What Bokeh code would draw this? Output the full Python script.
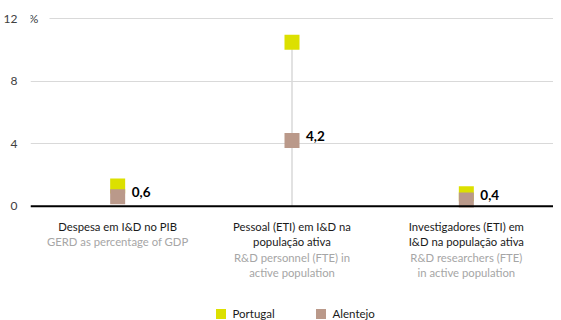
from bokeh.plotting import figure
from bokeh.models import (ColumnDataSource, Range1d, FactorRange, FixedTicker, Span,
                          Label, Legend, LegendItem, BoxAnnotation)
from bokeh.core.properties import value
from bokeh.embed import file_html
from bokeh.resources import INLINE

# ---- data ----
categories = ["Despesa", "Pessoal", "Investigadores"]
pt_labels = ["Despesa em I&D no PIB",
             "Pessoal (ETI) em I&D na\npopulação ativa",
             "Investigadores (ETI) em\nI&D na população ativa"]
en_labels = ["GERD as percentage of GDP",
             "R&D personnel (FTE) in\nactive population",
             "R&D researchers (FTE)\nin active population"]
portugal = [1.3, 10.5, 0.8]
alentejo = [0.6, 4.2, 0.4]
alentejo_labels = ["0,6", "4,2", "0,4"]
y_ticks = [0, 4, 8, 12]
unit_label = "%"
series_names = ["Portugal", "Alentejo"]

PT_COLOR = "#DCE000"
AL_COLOR = "#BA998A"
FONT = "Lato"
LINE_H = 15.5
CAT_FS = 11.3
TOP_OFF = 13.5

p = figure(width=553, height=320, x_range=FactorRange(*categories, range_padding=0),
           y_range=Range1d(-7.32, 13.17), output_backend="svg", toolbar_location=None,
           min_border_left=21, min_border_right=0, min_border_top=0, min_border_bottom=0)
p.outline_line_color = None
p.xaxis.visible = False
p.xgrid.visible = False
p.ygrid.ticker = FixedTicker(ticks=y_ticks)
p.ygrid.grid_line_color = "#d9d9d9"
p.ygrid.grid_line_width = 1

ax = p.yaxis[0]
ax.ticker = FixedTicker(ticks=y_ticks)
ax.axis_line_color = None
ax.major_tick_line_color = None
ax.minor_tick_line_color = None
ax.major_label_standoff = 7
ax.major_label_text_font = FONT
ax.major_label_text_font_size = "12px"
ax.major_label_text_color = "#404040"

# drop line for the middle category
p.segment(x0=[categories[1]], y0=[0], x1=[categories[1]], y1=[portugal[1]],
          line_color="#d9d9d9", line_width=1.5)

# baseline
p.add_layout(Span(location=0, dimension="width", line_color="black", line_width=2))

# gap in the top gridline for the unit label
top = max(y_ticks)
p.add_layout(BoxAnnotation(left=0, right=19, left_units="screen", right_units="screen",
                           top=top + 0.3, bottom=top - 0.3, fill_color="white",
                           fill_alpha=1, line_color=None, level="overlay"))
p.add_layout(Label(x=3, y=top, x_units="screen", y_units="data", text=unit_label,
                   text_align="center", text_baseline="middle", text_font=FONT,
                   text_font_size="12px", text_color="#404040", level="overlay"))

src = ColumnDataSource(dict(cat=categories, pt=portugal, al=alentejo, lab=alentejo_labels))

r_pt = p.scatter("cat", "pt", source=src, marker="square", size=15,
                 fill_color=PT_COLOR, line_color=None)
r_al = p.scatter("cat", "al", source=src, marker="square", size=15,
                 fill_color=AL_COLOR, line_color=None)

p.text("cat", "al", text="lab", source=src, x_offset=14, y_offset=-5,
       text_font=value(FONT), text_font_style="bold", text_font_size="13.5px",
       text_color="black", text_align="left", text_baseline="middle")

zero = [0] * len(categories)
src2 = ColumnDataSource(dict(cat=categories, z=zero, ptl=pt_labels, enl=en_labels,
                             en_off=[TOP_OFF + LINE_H * (s.count("\n") + 1) for s in pt_labels]))
lh = LINE_H / (CAT_FS * 1.2)
p.text("cat", "z", text="ptl", source=src2, y_offset=TOP_OFF, text_font=value(FONT),
       text_font_size=f"{CAT_FS}px", text_color="#1a1a1a", text_align="center",
       text_baseline="top", text_line_height=lh)
p.text("cat", "z", text="enl", source=src2, y_offset="en_off", text_font=value(FONT),
       text_font_size=f"{CAT_FS}px", text_color="#a6a6a6", text_align="center",
       text_baseline="top", text_line_height=lh)

for name, r, loc in [(series_names[0], r_pt, (177.5, -6)), (series_names[1], r_al, (277.5, -6))]:
    lg = Legend(items=[LegendItem(label=name, renderers=[r])], location=loc,
                orientation="horizontal", glyph_width=25, glyph_height=25,
                label_height=25, label_standoff=-9, padding=0, margin=0,
                border_line_color=None, background_fill_alpha=0,
                label_text_font=FONT, label_text_font_size="11.5px",
                label_text_color="#1a1a1a")
    p.add_layout(lg, "center")

open("out.html", "w").write(file_html(p, INLINE))
